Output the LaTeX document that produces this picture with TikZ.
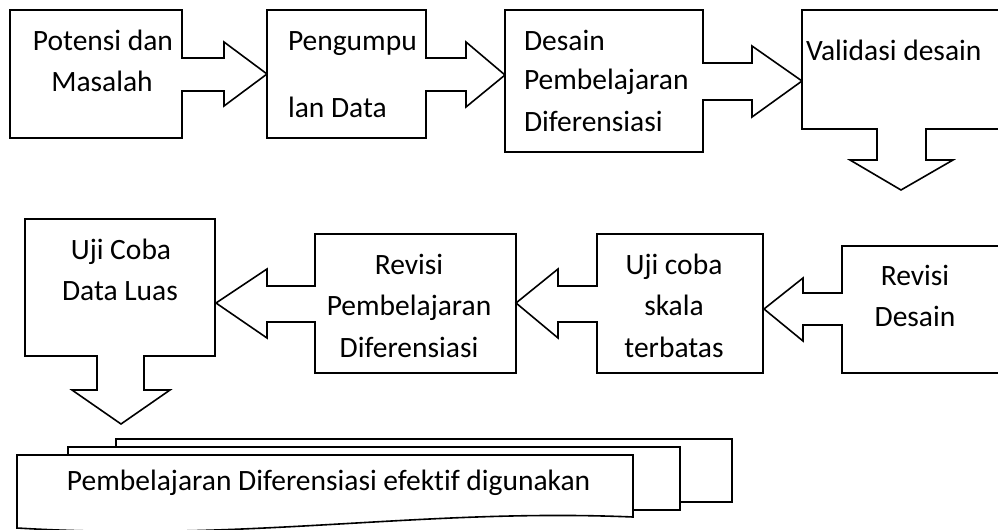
\documentclass[tikz,border=0pt]{standalone}
\usepackage{fontspec}
\setmainfont[Ligatures=NoCommon]{Carlito}
\begin{document}
\begin{tikzpicture}[x={(0.5pt,0)},y={(0,-0.5pt)},
  callout/.style={draw=black, line width=0.8pt, fill=white, line join=miter},
  lbl/.style={inner sep=0pt, outer sep=0pt, font=\fontsize{14.75}{17}\selectfont},
  lblc/.style={lbl, anchor=base},
  lblw/.style={lbl, anchor=base west}]
\useasboundingbox (0,0) rectangle (998,530);
\clip (0,0) rectangle (998,530);
% row 1
\path[callout] (10,10) -- (182,10) -- (182,58) -- (224,58) -- (224,42) -- (267,74) -- (224,106) -- (224,91) -- (182,91) -- (182,138) -- (10,138) -- cycle;
\path[callout] (267,10) -- (426,10) -- (426,58) -- (466,58) -- (466,42) -- (505,75) -- (466,107) -- (466,91) -- (426,91) -- (426,138) -- (267,138) -- cycle;
\path[callout] (505,10) -- (703,10) -- (703,63) -- (752,63) -- (752,46) -- (802,81) -- (752,117) -- (752,100) -- (703,100) -- (703,152) -- (505,152) -- cycle;
\path[callout] (802,10) -- (1010,10) -- (1010,129) -- (926,129) -- (926,160) -- (953,160) -- (901,190) -- (850,160) -- (877,160) -- (877,129) -- (802,129) -- cycle;
% row 2
\path[callout] (25,219) -- (215,219) -- (215,356) -- (144,356) -- (144,390) -- (170,390) -- (121,424) -- (72,390) -- (97,390) -- (97,356) -- (25,356) -- cycle;
\path[callout] (315,234) -- (516,234) -- (516,373) -- (315,373) -- (315,322) -- (267,322) -- (267,338) -- (216,303) -- (267,269) -- (267,286) -- (315,286) -- cycle;
\path[callout] (597,234) -- (763,234) -- (763,373) -- (597,373) -- (597,322) -- (558,322) -- (558,338) -- (516,303) -- (558,269) -- (558,286) -- (597,286) -- cycle;
\path[callout] (842,246) -- (1010,246) -- (1010,373) -- (842,373) -- (842,325) -- (803,325) -- (803,341) -- (764,309) -- (803,278) -- (803,293) -- (842,293) -- cycle;
% multidocument
\path[callout] (116,447) -- (116,439) -- (732,439) -- (732,502) -- (680,502) -- (680,447) -- cycle;
\path[callout] (68,455) -- (68,447) -- (680,447) -- (680,510) -- (633,510) -- (633,455) -- cycle;
\path[callout] (17,455) -- (633,455) -- (633,517) .. controls (420,508) and (250,542) .. (17,528) -- cycle;
% labels
\node[lblc] (t1a) at (103,50) {Potensi dan};
\node[lblc] (t1b) at (102,91) {Masalah};
\node[lblw] (t2a) at (288,50) {Pengumpu};
\node[lblw] (t2b) at (288,117) {lan Data};
\node[lblw] (t3a) at (524,50) {Desain};
\node[lblw] (t3b) at (524,90) {Pembelajaran};
\node[lblw] (t3c) at (524,131) {Diferensiasi};
\node[lblw] (t4a) at (806,61) {Validasi desain};
\node[lblc] (t5a) at (121,259) {Uji Coba};
\node[lblc] (t5b) at (120,300) {Data Luas};
\node[lblc] (t6a) at (409,274) {Revisi};
\node[lblc] (t6b) at (409,315) {Pembelajaran};
\node[lblc] (t6c) at (409,357) {Diferensiasi};
\node[lblc] (t7a) at (674,274) {Uji coba};
\node[lblc] (t7b) at (674,315) {skala};
\node[lblc] (t7c) at (674,357) {terbatas};
\node[lblc] (t8a) at (915,285) {Revisi};
\node[lblc] (t8b) at (915,326) {Desain};
\node[lblw] (t9a) at (67,490) {Pembelajaran Diferensiasi efektif digunakan};
\end{tikzpicture}
\end{document}
